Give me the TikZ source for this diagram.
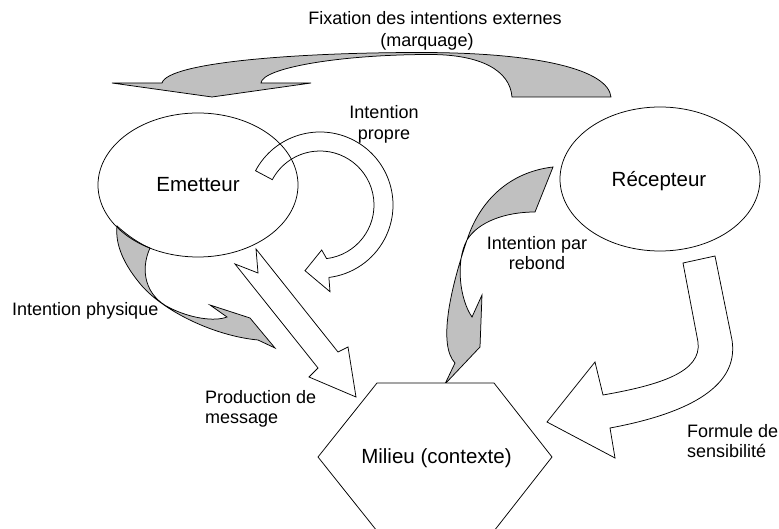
\documentclass[tikz,border=0pt]{standalone}
\usepackage{fontspec}
\setmainfont{Liberation Sans}
\usetikzlibrary{shapes.geometric}
\definecolor{ribbon}{HTML}{C0C0C0}
\begin{document}
\begin{tikzpicture}[x=1pt,y=-1pt,
  edge/.style={draw=black, line width=0.75pt, line join=miter},
  grayarrow/.style={edge, fill=ribbon},
  whitearrow/.style={edge, fill=white},
  annot/.style={font=\fontsize{18}{20}\selectfont, inner sep=0pt, anchor=base},
  annotl/.style={annot, anchor=base west},
  bigl/.style={font=\fontsize{20.5}{24}\selectfont, inner sep=0pt, anchor=base},
  oval/.style={ellipse, draw, line width=0.75pt, minimum width=200pt, minimum height=144pt, inner sep=0pt}]
\useasboundingbox (0,0) rectangle (779,529);

% top gray arrow (marquage)
\path[grayarrow] (162,83) .. controls (168,62) and (300,52.5) .. (420,52.5)
  .. controls (540,52.5) and (608,70) .. (611,97) -- (512,97)
  .. controls (510,70) and (480,54.5) .. (430,54.5)
  .. controls (340,54.5) and (262,68) .. (261,83)
  -- (311,83) -- (212,97) -- (112,83) -- cycle;

% intention physique (gray)
\path[grayarrow] (117,226) .. controls (128,236) and (140,244) .. (150,248)
  .. controls (140,270) and (145,296) .. (170,308)
  .. controls (190,318) and (214,322) .. (227,317)
  -- (210,305) -- (250,318) -- (275,348) -- (258,340)
  .. controls (215,336) and (165,312) .. (142,286)
  .. controls (124,265) and (115,245) .. (117,226) -- cycle;

% production de message (white)
\path[whitearrow] (235,264) -- (318,368) -- (309,377) -- (356,397) -- (348,347)
  -- (338,352) -- (256,249) -- (258,273) -- cycle;

% intention propre (white, curved)
\begin{scope}[shift={(320,205)}]
\path[whitearrow] (208:73) arc[start angle=208, end angle=443, radius=73]
  -- (10,86.7) -- (-15,65.7) -- (1.7,45)
  -- (443:54) arc[start angle=443, end angle=208, radius=54] -- cycle;
\end{scope}

% intention par rebond (gray)
\path[grayarrow] (553,167) .. controls (510,172) and (480,200) .. (467,240)
  .. controls (450,290) and (438,345) .. (455,363)
  -- (445,384) -- (480,347) -- (482,295) -- (472,317)
  .. controls (460,300) and (455,262) .. (467,240)
  .. controls (478,222) and (505,212) .. (535,212) -- cycle;

% formule de sensibilite (white)
\path[whitearrow] (683,263) -- (698,342) .. controls (702,372) and (660,385) .. (603,395)
  -- (595,362) -- (547,422) -- (615,458) -- (610,428)
  .. controls (680,415) and (740,390) .. (732,340) -- (715,256) -- cycle;

% hexagon
\path[edge, fill=white] (377,383) -- (494,383) -- (552,457) -- (494,531) -- (377,531) -- (318,457) -- cycle;

% ellipses
\node[oval] (emetteur) at (198,185) {};
\node[oval] (recepteur) at (660,179) {};

% labels
\node[bigl] (emetteurt) at (198,192) {Emetteur};
\node[bigl] (recepteurt) at (659,187) {Récepteur};
\node[bigl] (milieu) at (436.5,463) {Milieu (contexte)};

\node[annot] (fix1) at (435,25) {Fixation des intentions externes};
\node[annot] (fix2) at (427,47) {(marquage)};
\node[annot] (prop1) at (384,119) {Intention};
\node[annot] (prop2) at (384,140) {propre};
\node[annotl] (phys) at (12,316) {Intention physique};
\node[annotl] (prod1) at (205,403) {Production de};
\node[annotl] (prod2) at (205,423) {message};
\node[annot] (reb1) at (537,250) {Intention par};
\node[annot] (reb2) at (537,270) {rebond};
\node[annotl] (form1) at (687,437) {Formule de};
\node[annotl] (form2) at (687,457) {sensibilité};
\end{tikzpicture}
\end{document}
